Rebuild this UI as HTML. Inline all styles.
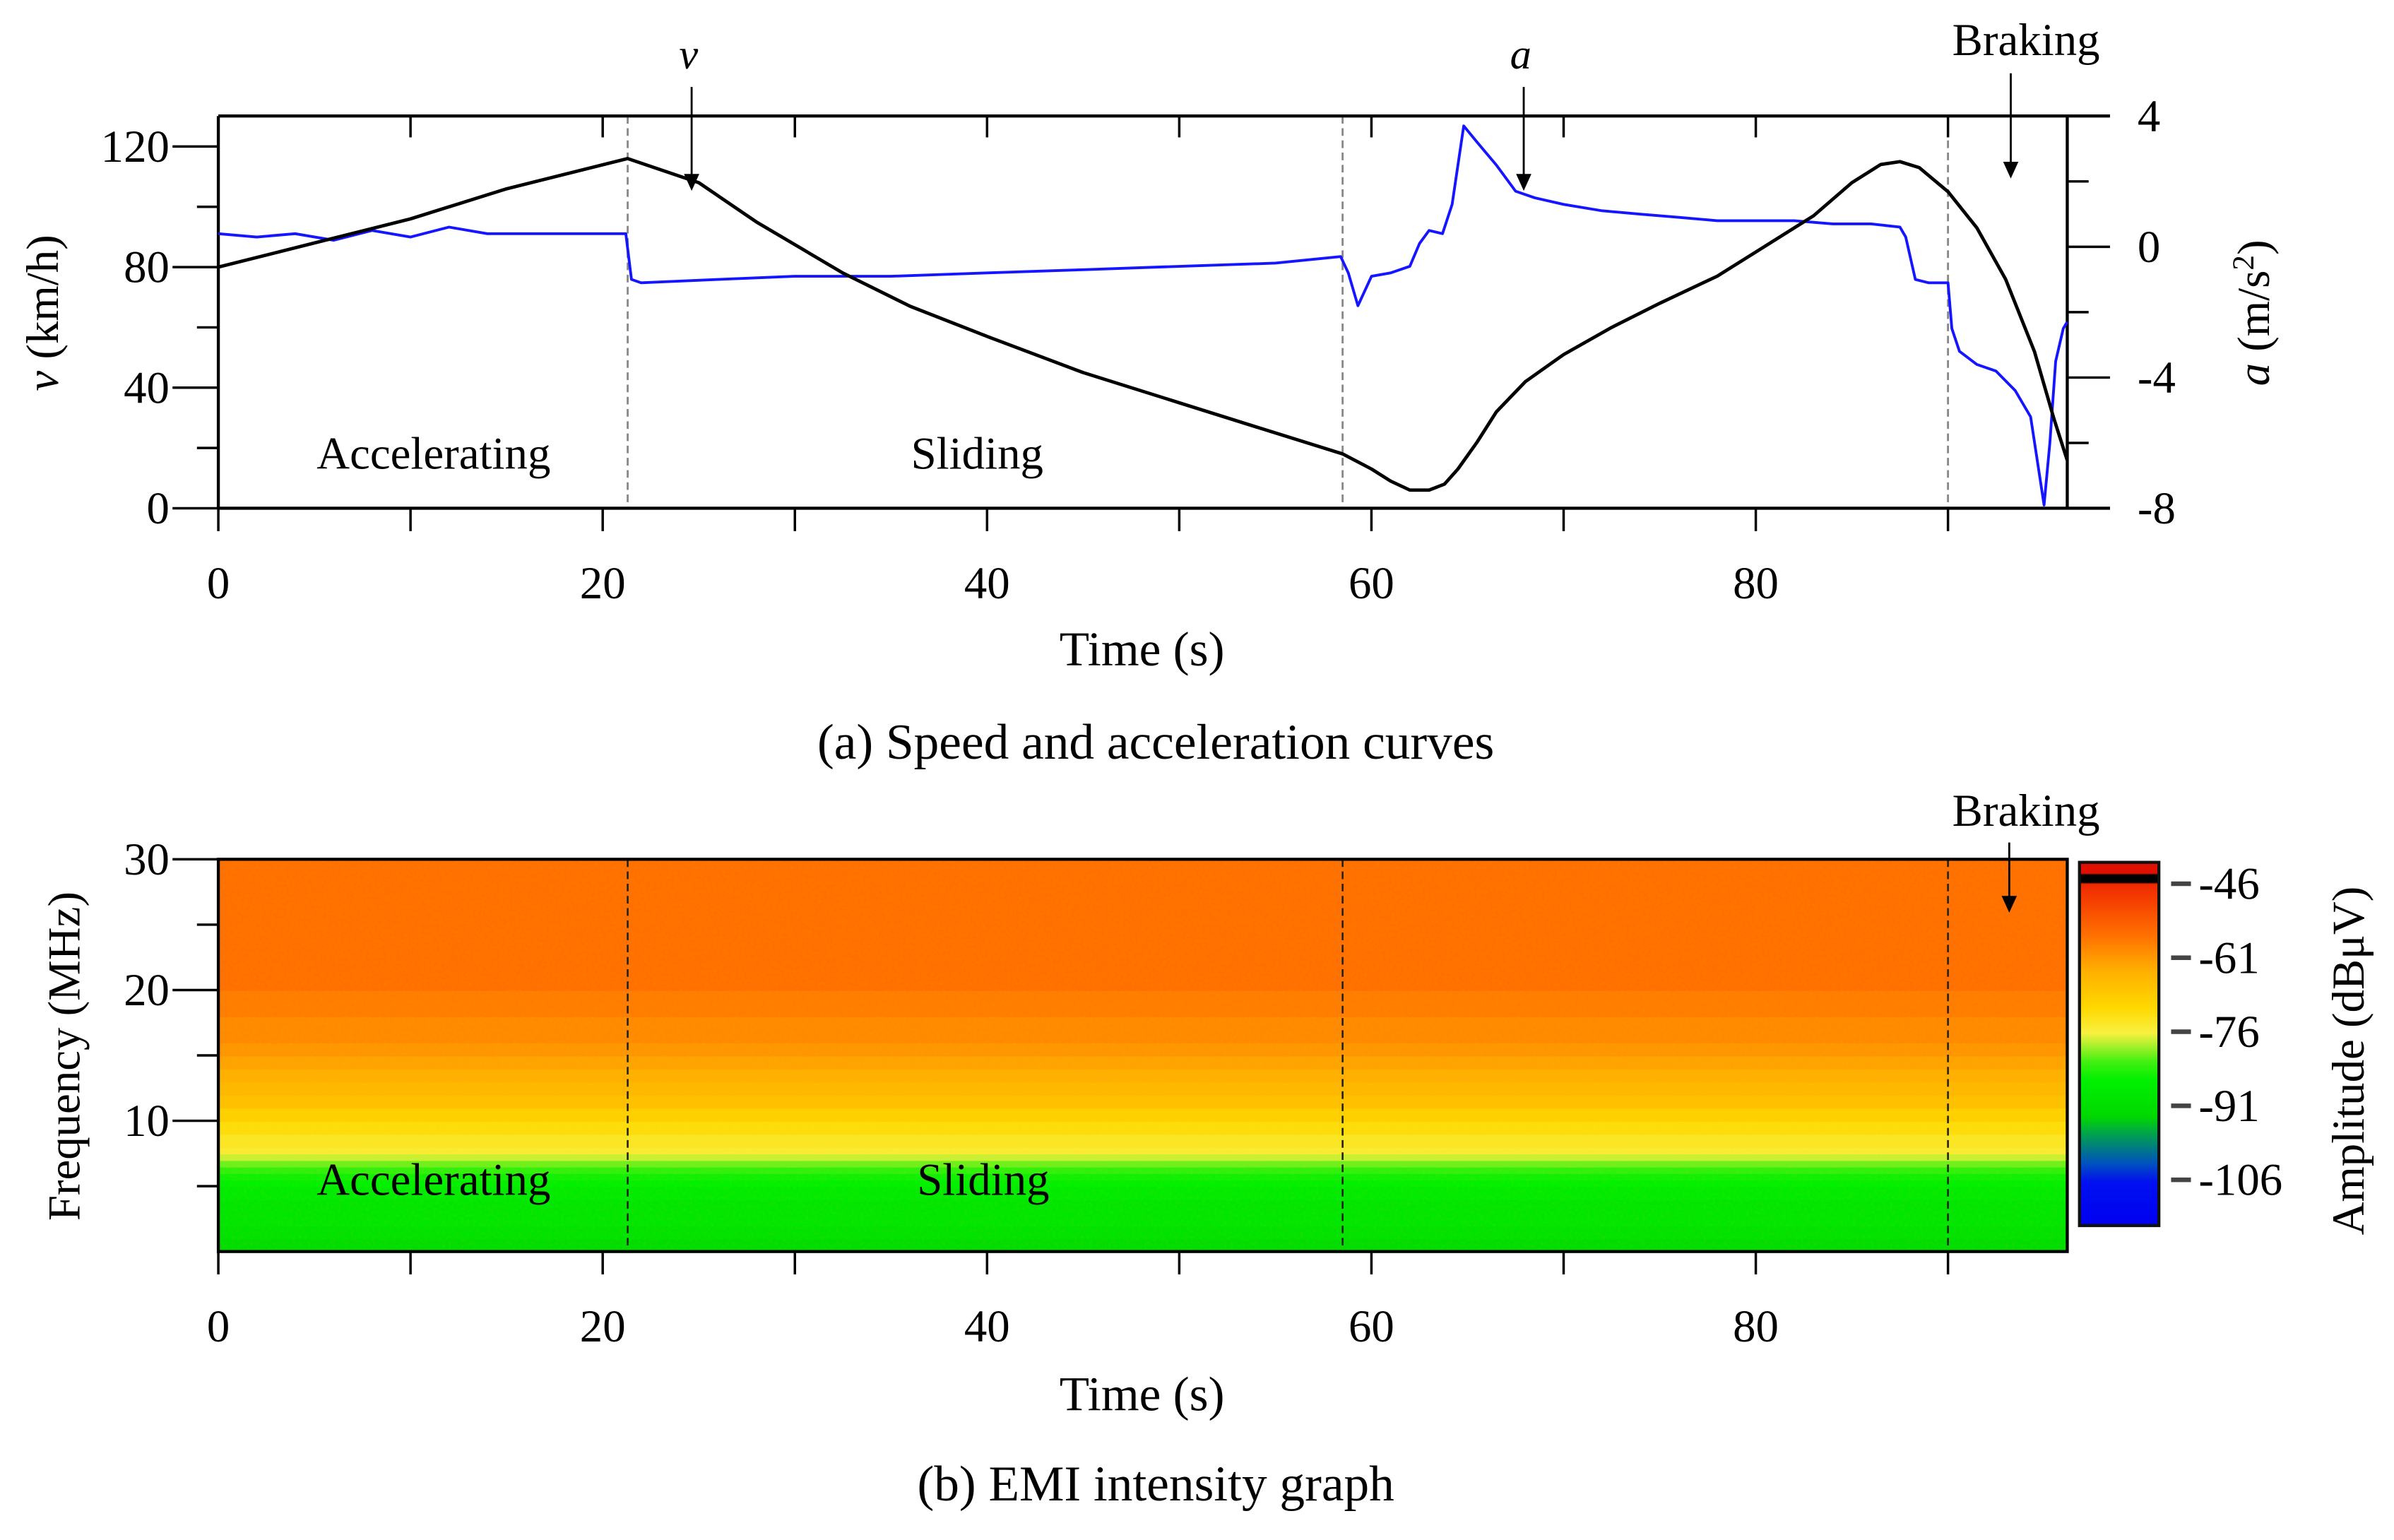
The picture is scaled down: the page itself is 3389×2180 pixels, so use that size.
<!DOCTYPE html>
<html><head><meta charset="utf-8"><style>
html,body{margin:0;padding:0;background:#fff}
svg{display:block}
text{font-family:"Liberation Serif",serif;fill:#000}
</style></head><body>
<svg id="fig" width="3389" height="2180" viewBox="0 0 1568 1009" preserveAspectRatio="none" xmlns="http://www.w3.org/2000/svg">
<defs>
<linearGradient id="cbar" x1="0" y1="0" x2="0" y2="1">
<stop offset="0" stop-color="#e01000"/><stop offset="0.03" stop-color="#e01000"/>
<stop offset="0.035" stop-color="#000"/><stop offset="0.055" stop-color="#000"/>
<stop offset="0.06" stop-color="#f02800"/><stop offset="0.2" stop-color="#ff7000"/>
<stop offset="0.3" stop-color="#ffb000"/><stop offset="0.4" stop-color="#ffd800"/>
<stop offset="0.47" stop-color="#f8f040"/><stop offset="0.55" stop-color="#40f010"/>
<stop offset="0.6" stop-color="#00f000"/><stop offset="0.7" stop-color="#00d800"/>
<stop offset="0.75" stop-color="#00a050"/><stop offset="0.83" stop-color="#0050c0"/>
<stop offset="0.88" stop-color="#0010f0"/><stop offset="1" stop-color="#0000f0"/>
</linearGradient>
<filter id="noise" x="0" y="0" width="1" height="1">
<feTurbulence type="fractalNoise" baseFrequency="0.5" numOctaves="2" seed="3"/>
<feColorMatrix type="matrix" values="0 0 0 0 1  0 0 0 0 0.6  0 0 0 0 0  0 0 0 0.5 -0.2"/>
</filter>
</defs>
<g id="topChart"></g>
<g id="botChart"></g>
</svg>
<script>
// ---- data: speed (km/h) ----
const speedT = [0,5,10,15,21.3,25,28,32.5,36,40,45,50,54,58.5,60,61,62,63,63.8,64.5,65.5,66.5,68,70,72.5,75,78,80,83,85,86.5,87.5,88.5,90,91.5,93,94.5,95.5,96.2];
const speedV = [80,88,96,106,116,108,95,78,67,57,45,35,27,18,13,9,6,6,8,13,22,32,42,51,60,68,77,85,97,108,114,115,113,105,93,76,52,30,16];
// ---- data: acceleration (m/s^2) ----
const accT = [0,2,4,6,8,10,12,14,16,18,21.2,21.5,22,26,30,35,40,45,50,55,58.4,58.8,59.3,60,61,62,62.5,63,63.7,64.2,64.8,65.5,66.5,67.5,68.5,70,72,74,76,78,80,82,84,86,87.5,87.8,88.3,89,90,90.2,90.6,91.5,92.5,93.5,94.3,95,95.3,95.6,96,96.2];
const accA = [0.4,0.3,0.4,0.2,0.5,0.3,0.6,0.4,0.4,0.4,0.4,-1.0,-1.1,-1.0,-0.9,-0.9,-0.8,-0.7,-0.6,-0.5,-0.3,-0.8,-1.8,-0.9,-0.8,-0.6,0.1,0.5,0.4,1.3,3.7,3.2,2.5,1.7,1.5,1.3,1.1,1.0,0.9,0.8,0.8,0.8,0.7,0.7,0.6,0.3,-1.0,-1.1,-1.1,-2.5,-3.2,-3.6,-3.8,-4.4,-5.2,-7.9,-6,-3.5,-2.5,-2.3];
// ---- axes tick labels ----
const timeTicks = [0,20,40,60,80];
const speedTicks = [0,40,80,120];
const accTicks = [4,0,-4,-8];
const freqTicks = [10,20,30];
const cbarTicks = [-46,-61,-76,-91,-106];
const phaseLines = [21.3,58.5,90];
// ---- heatmap: frequency rows (MHz) and amplitude (dBuV) ----
const freqRows = [0,1,2,3,4,5,5.5,6,6.5,7,7.5,8,9,10,11,12,13,14,15,16,17,18,19,20,21,22,23,24,25,26,27,28,29];
const amplitude = [-88,-87,-86,-86,-85,-84,-83,-81,-79,-77,-75,-74,-72,-70,-68,-67,-66,-65,-64,-63,-63,-62,-62,-61,-61,-61,-61,-61,-61,-61,-61,-61,-61];

const NS="http://www.w3.org/2000/svg";
function mk(tag,attrs,parent,txt){const el=document.createElementNS(NS,tag);for(const k in attrs)el.setAttribute(k,attrs[k]);if(txt!==undefined)el.textContent=txt;parent.appendChild(el);return el;}
const X0=143,X1=1354,pxs=(1150-143)/80;
const xT=t=>X0+t*pxs;
const yV=v=>333-v*(333-96)/120;
const yA=a=>161.7-a*(333-76)/12;
const yF=f=>820-f*(820-563)/30;
const gTop=document.getElementById('topChart'), gBot=document.getElementById('botChart');

let e;
phaseLines.forEach(t=>{e=mk('line',{x1:xT(t),x2:xT(t),y1:76,y2:333,stroke:'#888','stroke-width':1.3,'stroke-dasharray':'5,3'},gTop);

});
e=mk('path',{d:`M143,76H1382M143,333H1382M143,76V333M1354,76V333`,stroke:'#000','stroke-width':2,fill:'none'},gTop);


for(let t=0;t<=90;t+=10){mk('line',{x1:xT(t),x2:xT(t),y1:333,y2:348,stroke:'#000','stroke-width':1.6},gTop);
 if(t>0)mk('line',{x1:xT(t),x2:xT(t),y1:76,y2:90,stroke:'#000','stroke-width':1.6},gTop);}
for(let v=0;v<=120;v+=20){mk('line',{x1:v%40===0?113:129,x2:143,y1:yV(v),y2:yV(v),stroke:'#000','stroke-width':1.6},gTop);}
for(let a=-8;a<=4;a+=2){mk('line',{x1:1354,x2:a%4===0?1382:1368,y1:yA(a),y2:yA(a),stroke:'#000','stroke-width':1.6},gTop);}
timeTicks.forEach(t=>{e=mk('text',{x:xT(t),y:392,'font-size':30,'text-anchor':'middle'},gTop,t);

});
speedTicks.forEach(v=>{e=mk('text',{x:111,y:yV(v)+10,'font-size':30,'text-anchor':'end'},gTop,v);

});
accTicks.forEach(a=>{e=mk('text',{x:1400,y:yA(a)+10,'font-size':30},gTop,a);

});
let d=accT.map((t,i)=>(i?'L':'M')+xT(t).toFixed(1)+','+yA(accA[i]).toFixed(1)).join('');
e=mk('path',{d,stroke:'#1515ff','stroke-width':1.8,fill:'none','stroke-linejoin':'round'},gTop);


d=speedT.map((t,i)=>(i?'L':'M')+xT(t).toFixed(1)+','+yV(speedV[i]).toFixed(1)).join('');
e=mk('path',{d,stroke:'#000','stroke-width':2.2,fill:'none','stroke-linejoin':'round'},gTop);


function txt(p,x,y,s,str,name,extra){const t=mk('text',Object.assign({x,y,'font-size':s},extra||{}),p,str);return t;}
txt(gTop,748,436,32,'Time (s)','x-axis-title',{'text-anchor':'middle'});
txt(gTop,757,497,33,'(a) Speed and acceleration curves','subplot-caption-a',{'text-anchor':'middle'});
txt(gTop,284,307,30,'Accelerating','phase-label-accelerating',{'text-anchor':'middle'});
txt(gTop,640,307,30,'Sliding','phase-label-sliding',{'text-anchor':'middle'});
txt(gTop,1327,36,30,'Braking','phase-label-braking',{'text-anchor':'middle'});
txt(gTop,451,45,28,'v','arrow-label-v',{'text-anchor':'middle','font-style':'italic'});
txt(gTop,996,45,28,'a','arrow-label-a',{'text-anchor':'middle','font-style':'italic'});
e=mk('text',{transform:'translate(38,205) rotate(-90)','font-size':30,'text-anchor':'middle'},gTop);
e.innerHTML='<tspan font-style="italic">v</tspan> (km/h)';


e=mk('text',{transform:'translate(1486,205) rotate(-90)','font-size':30,'text-anchor':'middle'},gTop);
e.innerHTML='<tspan font-style="italic">a</tspan> (m/s<tspan dy="-10" font-size="20">2</tspan><tspan dy="10">)</tspan>';


function arrow(p,x,y1,y2,name){const g=mk('g',{},p);
 mk('line',{x1:x,x2:x,y1:y1,y2:y2-8,stroke:'#000','stroke-width':1.3},g);
 mk('path',{d:`M${x-5},${y2-11}L${x+5},${y2-11}L${x},${y2}Z`,fill:'#000'},g);}
arrow(gTop,453,57,125,'arrow-v');arrow(gTop,998,57,125,'arrow-a');arrow(gTop,1317,48,117,'arrow-braking');

function cmap(a){const stops=[[-115,[0,0,240]],[-103,[0,16,240]],[-98,[0,80,192]],[-93,[0,160,80]],[-89,[0,216,0]],[-84,[0,240,0]],[-80,[64,240,16]],[-76,[248,240,64]],[-71,[255,216,0]],[-66,[255,176,0]],[-61,[255,112,0]],[-52,[240,40,0]]];
 if(a<=stops[0][0])return 'rgb('+stops[0][1]+')';
 for(let i=1;i<stops.length;i++){if(a<=stops[i][0]){const [a0,c0]=stops[i-1],[a1,c1]=stops[i];const f=(a-a0)/(a1-a0);return 'rgb('+c0.map((c,k)=>Math.round(c+(c1[k]-c)*f)).join(',')+')';}}
 return 'rgb(240,40,0)';}
freqRows.forEach((f,i)=>{const f2=i+1<freqRows.length?freqRows[i+1]:30;
 e=mk('rect',{x:X0,y:yF(f2),width:X1-X0,height:yF(f)-yF(f2)+0.6,fill:cmap(amplitude[i])},gBot);
 
 });
e=mk('rect',{x:X0,y:563,width:X1-X0,height:257,filter:'url(#noise)',opacity:0.35},gBot);


phaseLines.forEach(t=>{e=mk('line',{x1:xT(t),x2:xT(t),y1:563,y2:820,stroke:'#222','stroke-width':1.2,'stroke-dasharray':'5,3'},gBot);

});
e=mk('rect',{x:X0,y:563,width:X1-X0,height:257,fill:'none',stroke:'#000','stroke-width':2},gBot);


for(let t=0;t<=90;t+=10)mk('line',{x1:xT(t),x2:xT(t),y1:820,y2:835,stroke:'#000','stroke-width':1.6},gBot);
for(let f=5;f<=30;f+=5)mk('line',{x1:f%10===0?113:129,x2:143,y1:yF(f),y2:yF(f),stroke:'#000','stroke-width':1.6},gBot);
timeTicks.forEach(t=>{e=mk('text',{x:xT(t),y:879,'font-size':30,'text-anchor':'middle'},gBot,t);

});
freqTicks.forEach(f=>{e=mk('text',{x:111,y:yF(f)+10,'font-size':30,'text-anchor':'end'},gBot,f);

});
txt(gBot,748,924,32,'Time (s)','x-axis-title-b',{'text-anchor':'middle'});
txt(gBot,757,983,33,'(b) EMI intensity graph','subplot-caption-b',{'text-anchor':'middle'});
txt(gBot,284,783,30,'Accelerating','phase-label-accelerating-b',{'text-anchor':'middle'});
txt(gBot,644,783,30,'Sliding','phase-label-sliding-b',{'text-anchor':'middle'});
txt(gBot,1327,541,30,'Braking','phase-label-braking-b',{'text-anchor':'middle'});
arrow(gBot,1316,552,598,'arrow-braking-b');
txt(gBot,0,0,30,'Frequency (MHz)','freq-axis-title',{transform:'translate(52,692) rotate(-90)','text-anchor':'middle'});
e=mk('rect',{x:1362,y:565,width:52,height:238,fill:'url(#cbar)',stroke:'#111','stroke-width':2},gBot);


const cbY=a=>579+(-46-a)*(773-579)/60;
cbarTicks.forEach(a=>{mk('line',{x1:1422,x2:1435,y1:cbY(a),y2:cbY(a),stroke:'#444','stroke-width':3},gBot);
 e=mk('text',{x:1440,y:cbY(a)+10,'font-size':30},gBot,a);
 
 });
txt(gBot,0,0,30,'Amplitude (dBμV)','colorbar-title',{transform:'translate(1548,695) rotate(-90)','text-anchor':'middle'});
</script>
</body></html>
